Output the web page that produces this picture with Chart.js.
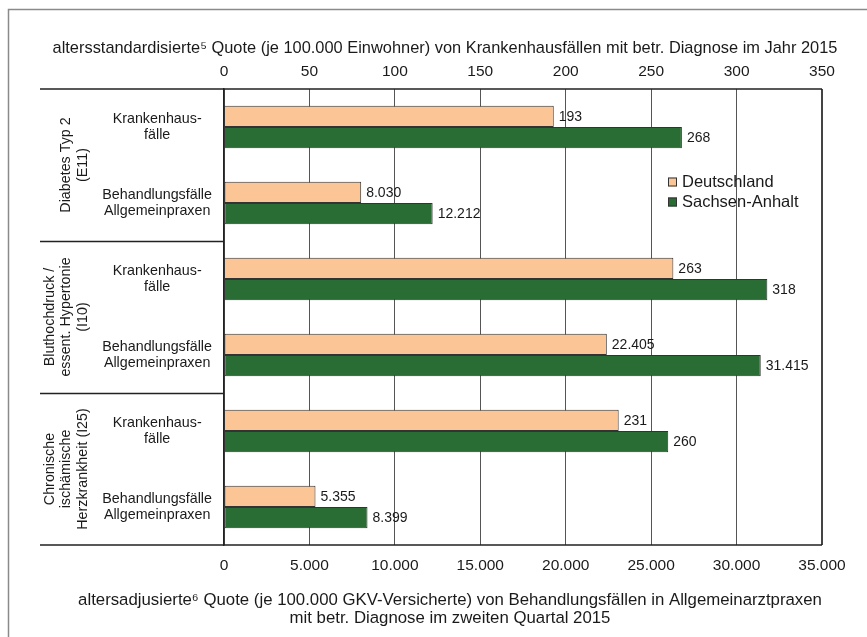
<!DOCTYPE html>
<html lang="de">
<head>
<meta charset="utf-8">
<title>Krankenhausfälle und Behandlungsfälle</title>
<script src="https://cdn.jsdelivr.net/npm/chart.js@4.4.1/dist/chart.umd.min.js"></script>
<style>
  html, body { margin: 0; padding: 0; background: #fff; }
  #wrap { width: 867px; height: 637px; }
</style>
</head>
<body>
<div id="wrap"><canvas id="chart" width="867" height="637"></canvas></div>
<script>
// Daten
const rowLabels = [
    ['Krankenhaus-', 'fälle'], ['Behandlungsfälle', 'Allgemeinpraxen'],
    ['Krankenhaus-', 'fälle'], ['Behandlungsfälle', 'Allgemeinpraxen'],
    ['Krankenhaus-', 'fälle'], ['Behandlungsfälle', 'Allgemeinpraxen']
];
const groupLabels = [
    ['Diabetes Typ 2', '(E11)'],
    ['Bluthochdruck /', 'essent. Hypertonie', '(I10)'],
    ['Chronische', 'ischämische', 'Herzkrankheit (I25)']
];
const seriesNames = ['Deutschland', 'Sachsen-Anhalt'];
const krankenhausDE = [193, 263, 231];
const krankenhausST = [268, 318, 260];
const praxenDE = [8030, 22405, 5355];
const praxenST = [12212, 31415, 8399];
const topMax = 350, topStep = 50;
const bottomMax = 35000, bottomStep = 5000;

const topTitle = 'altersstandardisierte\u2075 Quote (je 100.000 Einwohner) von Krankenhausfällen mit betr. Diagnose im Jahr 2015';
const bottomTitle = [
    'altersadjusierte\u2076 Quote (je 100.000 GKV-Versicherte) von Behandlungsfällen in Allgemeinarztpraxen',
    'mit betr. Diagnose im zweiten Quartal 2015'
];

const colors = ['#FBC595', '#2A6D34'];
const fontFamily = '"Liberation Sans", Arial, sans-serif';
const textColor = '#1a1a1a';

// Werte in die Zeilen verteilen (Krankenhaus = gerade Zeilen, Praxen = ungerade)
function toRows(values, offset) {
    const rows = new Array(rowLabels.length).fill(null);
    values.forEach((v, g) => { rows[g * 2 + offset] = v; });
    return rows;
}

function fmt(v) {
    return String(v).replace(/\B(?=(\d{3})+(?!\d))/g, '.');
}

function makeDataset(name, values, offset, axis, color, stack) {
    return {
        label: name,
        data: toRows(values, offset),
        xAxisID: axis,
        stack: stack,
        backgroundColor: color,
        borderColor: '#333',
        borderWidth: 1,
        borderSkipped: false
    };
}

const extrasPlugin = {
    id: 'extras',
    beforeDraw(chart) {
        const ctx = chart.ctx;
        ctx.save();
        ctx.fillStyle = '#fff';
        ctx.fillRect(0, 0, chart.width, chart.height);
        // Rahmen
        ctx.strokeStyle = '#8a8a8a';
        ctx.lineWidth = 1.5;
        ctx.beginPath();
        ctx.moveTo(8.5, chart.height);
        ctx.lineTo(8.5, 9.5);
        ctx.lineTo(chart.width, 9.5);
        ctx.stroke();
        ctx.restore();
    },
    afterDatasetsDraw(chart) {
        const ctx = chart.ctx;
        ctx.save();
        ctx.font = '14px ' + fontFamily;
        ctx.fillStyle = textColor;
        ctx.textBaseline = 'middle';
        ctx.textAlign = 'left';
        chart.data.datasets.forEach((ds, i) => {
            const meta = chart.getDatasetMeta(i);
            meta.data.forEach((bar, j) => {
                const v = ds.data[j];
                if (v === null) return;
                ctx.fillText(fmt(v), bar.x + 5, bar.y + 1);
            });
        });
        ctx.restore();
    },
    afterDraw(chart) {
        const ctx = chart.ctx;
        const area = chart.chartArea;
        const yScale = chart.scales.y;
        const half = (yScale.getPixelForValue(1) - yScale.getPixelForValue(0)) / 2;
        ctx.save();

        // Linien oben / unten und Trenner zwischen Gruppen
        ctx.strokeStyle = '#222';
        ctx.lineWidth = 1.5;
        ctx.beginPath();
        ctx.moveTo(40, area.top);
        ctx.lineTo(area.right, area.top);
        ctx.moveTo(40, area.bottom);
        ctx.lineTo(area.right, area.bottom);
        for (let g = 1; g < groupLabels.length; g++) {
            const y = Math.round(yScale.getPixelForValue(g * 2) - half) + 0.5;
            ctx.moveTo(40, y);
            ctx.lineTo(area.left, y);
        }
        ctx.stroke();

        // Gruppenbeschriftung (gedreht)
        ctx.fillStyle = textColor;
        ctx.font = '14.3px ' + fontFamily;
        ctx.textAlign = 'center';
        ctx.textBaseline = 'middle';
        groupLabels.forEach((lines, g) => {
            const yc = (yScale.getPixelForValue(g * 2) + yScale.getPixelForValue(g * 2 + 1)) / 2;
            lines.forEach((line, k) => {
                const x = 83 - (lines.length - 1 - k) * 16.5;
                ctx.save();
                ctx.translate(x, yc);
                ctx.rotate(-Math.PI / 2);
                ctx.fillText(line, 0, 0);
                ctx.restore();
            });
        });

        // Achsentitel
        ctx.font = '16.4px ' + fontFamily;
        ctx.fillText(topTitle, 445, 48);
        ctx.font = '16.8px ' + fontFamily;
        bottomTitle.forEach((line, k) => ctx.fillText(line, 450, 600 + k * 18.5));

        // Legende
        ctx.font = '16.5px ' + fontFamily;
        ctx.textAlign = 'left';
        seriesNames.forEach((name, k) => {
            const y = 182 + k * 20;
            ctx.fillStyle = colors[k];
            ctx.fillRect(668, y - 4.5, 9, 9);
            ctx.strokeStyle = '#333';
            ctx.lineWidth = 1;
            ctx.strokeRect(668.5, y - 4, 8, 8);
            ctx.fillStyle = textColor;
            ctx.fillText(name, 682, y);
        });
        ctx.restore();
    }
};

const ctx = document.getElementById('chart').getContext('2d');
new Chart(ctx, {
    type: 'bar',
    data: {
        labels: rowLabels,
        datasets: [
            makeDataset(seriesNames[0], krankenhausDE, 0, 'xTop', colors[0], 'de'),
            makeDataset(seriesNames[1], krankenhausST, 0, 'xTop', colors[1], 'st'),
            makeDataset(seriesNames[0], praxenDE, 1, 'x', colors[0], 'de'),
            makeDataset(seriesNames[1], praxenST, 1, 'x', colors[1], 'st')
        ]
    },
    options: {
        indexAxis: 'y',
        responsive: false,
        animation: false,
        layout: { padding: { left: 0, right: 45, top: 0, bottom: 0 } },
        datasets: { bar: { categoryPercentage: 0.56, barPercentage: 1 } },
        plugins: { legend: { display: false }, tooltip: { enabled: false } },
        scales: {
            y: {
                position: 'left',
                grid: { display: false },
                border: { display: true, color: '#222', width: 1.5 },
                ticks: {
                    crossAlign: 'center',
                    padding: 4,
                    color: textColor,
                    font: { family: fontFamily, size: 14.3, lineHeight: 1.1 }
                },
                afterFit(scale) { scale.width = 224; }
            },
            xTop: {
                type: 'linear',
                position: 'top',
                min: 0,
                max: topMax,
                stacked: false,
                grid: { display: false, drawTicks: false },
                border: { display: false },
                ticks: {
                    stepSize: topStep,
                    padding: 8,
                    color: textColor,
                    font: { family: fontFamily, size: 15.5 }
                },
                afterFit(scale) { scale.height = 89; }
            },
            x: {
                type: 'linear',
                position: 'bottom',
                min: 0,
                max: bottomMax,
                stacked: false,
                grid: {
                    drawTicks: false,
                    color: ctx => ctx.index === 7 ? '#444' : '#555',
                    lineWidth: ctx => ctx.index === 7 ? 2 : 1
                },
                border: { display: false },
                ticks: {
                    stepSize: bottomStep,
                    padding: 11,
                    color: textColor,
                    font: { family: fontFamily, size: 15.5 },
                    callback: v => fmt(v)
                },
                afterFit(scale) { scale.height = 92; }
            }
        }
    },
    plugins: [extrasPlugin]
});
</script>
</body>
</html>
